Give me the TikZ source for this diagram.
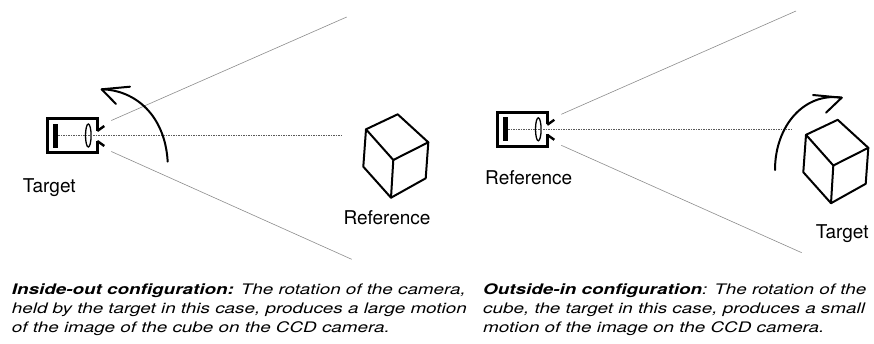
\documentclass[tikz,border=0pt]{standalone}
\usepackage{fontspec}
\setmainfont{TeX Gyre Heros}
\newfontfamily\captionfont[FakeStretch=1.3]{TeX Gyre Heros}
\begin{document}
\begin{tikzpicture}[x=1pt,y=-1pt,
  thickline/.style={line width=2pt,line join=round,line cap=round},
  bodyline/.style={line width=3pt,line join=miter},
  ray/.style={line width=0.6pt,draw=black!45},
  axis/.style={line width=0.7pt,draw=black!65,dash pattern=on 1.5pt off 1pt},
  label/.style={anchor=base,inner sep=0pt,font=\fontsize{19}{21}\selectfont},
  para/.style={anchor=base west,inner sep=0pt,font=\captionfont\fontsize{14.5}{19}\selectfont\itshape},
  camera/.pic={
    % body with an open front, lens hood and sensor
    \draw[bodyline] (50,-5) -- (50,-17) -- (0,-17) -- (0,17) -- (50,17) -- (50,5);
    \draw[line width=2.4pt,line join=round] (50,-4.5) -- (57,-9.5);
    \draw[line width=2.4pt,line join=round] (50,5.5) -- (57,10.5);
    \fill (6,-12) rectangle (11,12);
    \draw[line width=1.3pt] (41,0) ellipse [x radius=2.8,y radius=11.5];
    \coordinate (-sensor) at (11,0);
    \coordinate (-rayup) at (64,-15);
    \coordinate (-raydown) at (64,16);
  },
  cube/.pic={
    \coordinate (-T) at (0,0);
    \coordinate (-LT) at (-31.7,15);
    \coordinate (-RT) at (30.6,28);
    \coordinate (-C) at (-4.4,45.7);
    \coordinate (-B) at (-6.7,83.4);
    \coordinate (-LB) at (-34.4,52.4);
    \coordinate (-RB) at (28,64);
    \draw[thickline] (-T) -- (-RT) -- (-RB) -- (-B) -- (-LB) -- (-LT) -- cycle;
    \draw[thickline] (-LT) -- (-C) -- (-RT);
    \draw[thickline] (-C) -- (-B);
  }]
\useasboundingbox (0,0) rectangle (874,343);

% ---------- inside-out: camera held by the target ----------
\pic (camL) at (47.3,135.5) {camera};
\coordinate (farUpL) at (346.7,17);
\coordinate (farDownL) at (351.7,259.3);
\coordinate (axisEndL) at (343,135.5);
\draw[ray] (camL-rayup) -- (farUpL);
\draw[ray] (camL-raydown) -- (farDownL);
\draw[axis] (camL-sensor) -- (axisEndL);
\pic (cubeL) at (397.7,114.3) {cube};

% rotation of the camera
\coordinate (rotStartL) at (167.7,161.7);
\coordinate (rotTipL) at (101.7,89.3);
\draw[thickline] (rotStartL) .. controls (165,115) and (135,90) .. (rotTipL);
\draw[thickline] (130,86.7) -- (rotTipL) -- (116,104);

\node[label] (targetL) at (49.3,192.3) {Target};
\node[label] (referenceL) at (387,224) {Reference};

% ---------- outside-in: cube held by the target ----------
\pic (camR) at (497.3,129.3) {camera};
\coordinate (farUpR) at (796,11);
\coordinate (farDownR) at (801.7,252.7);
\coordinate (axisEndR) at (792,129.3);
\draw[ray] (camR-rayup) -- (farUpR);
\draw[ray] (camR-raydown) -- (farDownR);
\draw[axis] (camR-sensor) -- (axisEndR);
\pic (cubeR) at (837.7,119.8) {cube};

% rotation of the cube
\coordinate (rotStartR) at (775,170);
\coordinate (rotTipR) at (841.7,97.7);
\draw[thickline] (rotStartR) .. controls (775,125) and (805,92) .. (rotTipR);
\draw[thickline] (813,95) -- (rotTipR) -- (826,112.7);

\node[label] (referenceR) at (528.7,184) {Reference};
\node[label] (targetR) at (842.2,238.3) {Target};

% ---------- captions ----------
\node[para] (capL1) at (11.7,294.3) {\bfseries Inside-out configuration:\mdseries{} The rotation of the camera,};
\node[para] (capL2) at (11.7,313.3) {held by the target in this case, produces a large motion};
\node[para] (capL3) at (11.7,332.3) {of the image of the cube on the CCD camera.};
\node[para] (capR1) at (483,294.3) {\bfseries Outside-in configuration\mdseries: The rotation of the};
\node[para] (capR2) at (483,313.3) {cube, the target in this case, produces a small};
\node[para] (capR3) at (483,332.3) {motion of the image on the CCD camera.};
\end{tikzpicture}
\end{document}
